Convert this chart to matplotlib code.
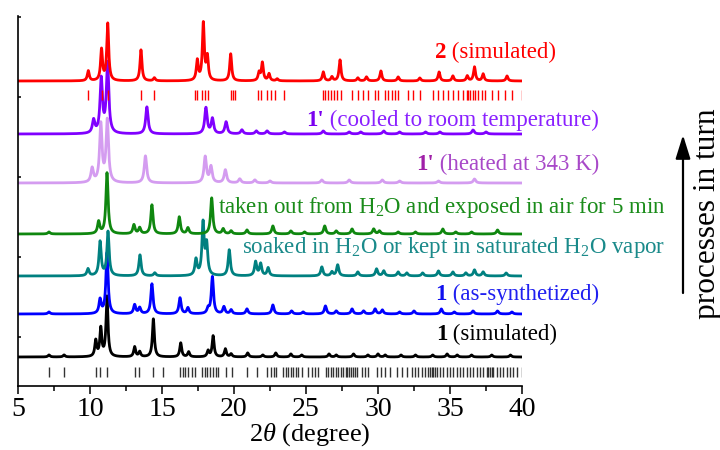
import glob
import numpy as np
import matplotlib
matplotlib.use("Agg")
import matplotlib.pyplot as plt
from matplotlib import font_manager

for pat in ['/usr/share/fonts/**/LiberationSerif*.ttf', '/usr/local/share/fonts/**/LiberationSerif*.ttf']:
    for f in glob.glob(pat, recursive=True):
        try:
            font_manager.fontManager.addfont(f)
        except Exception:
            pass

_names = {f.name for f in font_manager.fontManager.ttflist}
SERIF = 'STIXGeneral'
for cand in ['Liberation Serif', 'Times New Roman', 'Nimbus Roman', 'TeX Gyre Termes', 'STIXGeneral']:
    if cand in _names:
        SERIF = cand
        break

plt.rcParams['font.family'] = [SERIF, 'DejaVu Serif']
plt.rcParams['mathtext.fontset'] = 'custom'
plt.rcParams['mathtext.rm'] = SERIF
plt.rcParams['mathtext.it'] = SERIF + ':italic'
plt.rcParams['mathtext.bf'] = SERIF + ':bold'

# ---------------- data (peak positions in 2theta, heights) ----------------
# 1 (simulated)
sim1_pos = [7.15, 8.2, 10.4, 10.75, 11.18, 13.1, 13.45, 14.4, 16.3, 16.85, 18.2, 18.55, 19.4, 19.8,
            20.95, 22.0, 22.9, 23.95, 24.7, 26.6, 27.1, 28.3, 29.3, 30.0, 30.5, 31.6, 32.6, 33.8,
            34.8, 35.5, 36.5, 37.9, 39.2]
sim1_h = [2, 2, 16, 28, 60, 10, 5, 38, 14, 5, 6, 21, 8, 3,
          4, 2, 4, 3, 2, 3, 2, 3, 2, 3, 2, 2, 2, 2,
          3, 2, 2, 2, 2]
# 1 (as-synthetized)
as1_pos = [7.15, 10.7, 11.18, 13.1, 13.45, 14.3, 16.25, 16.8, 18.2, 18.5, 19.3, 19.8, 20.9, 22.7,
           24.0, 24.8, 26.35, 27.1, 28.2, 29.0, 29.8, 30.3, 31.5, 32.5, 34.4, 35.3, 36.6, 38.3, 39.3]
as1_h = [2, 14, 61, 9, 6, 30, 16, 6, 5, 37, 7, 4, 5, 9,
         3, 2, 8, 3, 5, 3, 5, 4, 2, 3, 5, 2, 3, 3, 2]
# soaked in H2O
soak_pos = [9.86, 10.7, 11.25, 13.47, 14.5, 17.36, 17.85, 18.1, 19.67, 21.5, 21.85, 22.37, 26.1,
            26.8, 27.2, 28.6, 29.9, 30.4, 31.4, 32.0, 33.1, 34.2, 35.2, 36.1, 36.7, 37.3, 38.9]
soak_h = [7, 34, 44, 21, 3, 16, 52, 30, 26, 14, 12, 8, 9,
          4, 11, 4, 7, 5, 4, 3, 3, 5, 4, 3, 6, 4, 3]
# taken out from H2O
taken_pos = [7.15, 10.6, 11.18, 13.05, 13.45, 14.3, 16.2, 16.8, 18.45, 19.25, 19.8, 20.9, 22.7,
             23.95, 24.9, 26.3, 27.1, 28.2, 29.7, 30.1, 31.4, 32.6, 34.5, 35.4, 36.5, 38.3]
taken_h = [2, 12, 61, 9, 6, 29, 17, 6, 36, 5, 3, 4, 8,
           3, 2, 8, 3, 5, 5, 3, 2, 2, 5, 2, 2, 4]
# 1' heated at 343 K
heat_pos = [10.15, 10.75, 11.2, 13.85, 18.0, 18.4, 19.4, 20.4, 21.45, 22.5, 26.1, 28.0, 30.3,
            31.5, 34.2, 36.7]
heat_h = [14, 58, 62, 27, 26, 16, 13, 4, 3, 2, 3, 3, 3, 2, 2, 4]
# 1' cooled to room temperature
cool_pos = [10.25, 10.78, 11.22, 13.95, 18.05, 18.5, 19.45, 20.55, 21.55, 22.3, 23.5, 26.2, 28.0,
            28.8, 30.4, 31.5, 33.3, 34.3, 36.6, 37.5]
cool_h = [13, 54, 70, 27, 26, 15, 12, 4, 3, 3, 2, 3, 2, 2, 3, 2, 2, 2, 4, 2]
# 2 (simulated)
sim2_pos = [9.88, 10.8, 11.23, 13.54, 14.47, 17.45, 17.87, 18.15, 19.77, 21.74, 21.97, 22.43, 23.0,
            26.2, 26.8, 27.36, 28.6, 29.2, 30.2, 31.4, 32.9, 34.24, 35.2, 36.2, 36.7, 37.3, 38.96]
sim2_h = [10, 31, 57, 31, 3, 20, 57, 23, 27, 8, 18, 7, 2,
          9, 4, 21, 3, 4, 10, 4, 3, 9, 5, 5, 14, 7, 5]

# reflection positions (tick rows)
refl1 = [7.18, 8.22, 10.39, 10.69, 11.16, 13.13, 13.43, 14.4, 15.09, 16.25, 16.44, 16.6, 16.83,
         17.06, 17.29, 17.75, 17.99, 18.15, 18.33, 18.56, 18.75, 18.91, 19.44, 19.84, 20.93,
         21.62, 22.31, 22.55, 22.78, 22.92, 23.43, 23.61, 23.77, 23.94, 24.12, 24.31, 24.47,
         24.7, 25.16, 25.39, 25.63, 25.86, 26.39, 26.55, 26.71, 26.9, 27.08, 27.24, 27.41,
         27.59, 27.78, 27.87, 28.01, 28.1, 28.24, 28.4, 28.56, 28.87, 29.1, 29.33, 29.91,
         30.19, 30.49, 30.83, 31.3, 31.65, 31.99, 32.34, 32.57, 32.8, 33.03, 33.26, 33.49,
         33.61, 33.72, 33.84, 33.96, 34.08, 34.31, 34.54, 34.77, 35.0, 35.23, 35.46, 35.69,
         35.92, 36.16, 36.39, 36.62, 36.85, 37.08, 37.31, 37.55, 37.66, 37.78, 37.9, 38.01,
         38.24, 38.47, 38.7, 38.94, 39.17, 39.4, 39.63, 39.98]
refl2 = [9.87, 10.8, 11.23, 13.54, 14.47, 17.3, 17.45, 17.8, 17.98, 18.2, 19.8, 19.95, 20.1,
         21.7, 21.9, 22.3, 22.55, 22.85, 23.5, 26.2, 26.35, 26.55, 26.75, 26.95, 27.15, 27.4,
         28.2, 28.6, 28.98, 29.33, 29.79, 30.02, 30.49, 30.72, 30.95, 31.18, 31.41, 32.1,
         32.45, 32.92, 33.84, 34.19, 34.54, 34.88, 35.23, 35.58, 35.92, 36.16, 36.27, 36.39,
         36.62, 36.74, 36.97, 37.2, 37.43, 37.9, 38.35, 38.82, 39.28, 39.98]

# vertical offsets of each pattern (axis units)
offsets = {'sim1': 29, 'as1': 72, 'soak': 110, 'taken': 152, 'heat': 203, 'cool': 252, 'sim2': 305}

W, H = 720, 450
fig = plt.figure(figsize=(W / 100, H / 100), dpi=100)
ax = fig.add_axes([18 / W, 1 - 386 / H, (522 - 18) / W, (386 - 16) / H])
ax.set_xlim(5, 40)
ax.set_ylim(0, 370)

x = np.linspace(5, 40, 3501)


def profile(pos, h, w):
    y = np.zeros_like(x)
    for p, hh in zip(pos, h):
        y += hh * w ** 2 / ((x - p) ** 2 + w ** 2)
    return y


lw = 2.0
series = [
    ('sim1', sim1_pos, sim1_h, 0.08, 'black'),
    ('as1', as1_pos, as1_h, 0.09, '#0000ff'),
    ('soak', soak_pos, soak_h, 0.09, '#008080'),
    ('taken', taken_pos, taken_h, 0.09, '#0f870f'),
    ('heat', heat_pos, heat_h, 0.1, '#d49cf0'),
    ('cool', cool_pos, cool_h, 0.1, '#8000ff'),
    ('sim2', sim2_pos, sim2_h, 0.08, '#ff0000'),
]
for key, pos, h, w, col in series:
    ax.plot(x, offsets[key] + profile(pos, h, w), color=col, lw=lw, solid_capstyle='round')

ax.vlines(refl1, 9, 19, color='#333333', lw=1.0)
ax.vlines(refl2, 286, 296, color='#ff0000', lw=1.0)

for s in ['top', 'right']:
    ax.spines[s].set_visible(False)
for s in ['left', 'bottom']:
    ax.spines[s].set_linewidth(1.2)

ax.set_xticks(np.arange(5, 41, 5))
ax.set_xticks(np.arange(5, 40.1, 2.5), minor=True)
ax.tick_params(axis='x', which='major', direction='out', length=6, width=1.1, labelsize=20, pad=2)
ax.tick_params(axis='x', which='minor', direction='out', length=3.5, width=1.1)
ax.set_yticks([49, 129, 209, 289, 369])
ax.tick_params(axis='y', which='major', direction='in', length=2.5, width=1.1, labelleft=False)

fig.text(310 / W, 1 - 441 / H, r'2$\theta$ (degree)', ha='center', va='baseline', fontsize=19)

renderer = fig.canvas.get_renderer()


def label(parts, xr, yb, size=16.5):
    xx = xr
    for txt, wt, col in reversed(parts):
        t = fig.text(xx / W, 1 - yb / H, txt, ha='right', va='baseline', fontsize=size,
                     fontweight=wt, color=col)
        bb = t.get_window_extent(renderer)
        xx = bb.x0


label([('2', 'bold', '#ff0000'), (' (simulated)', 'normal', '#ff0000')], 556, 58)
label([("1'", 'bold', '#7a00f0'), (' (cooled to room temperature)', 'normal', '#8a20ff')], 599, 126)
label([("1'", 'bold', '#a020a8'), (' (heated at 343 K)', 'normal', '#a848c8')], 599, 170)
label([(r'taken out from H$_2$O and exposed in air for 5 min', 'normal', '#1a8c1a')], 665, 213)
label([(r'soaked in H$_2$O or kept in saturated H$_2$O vapor', 'normal', '#1a8a8a')], 665, 253)
label([('1', 'bold', '#1010ee'), (' (as-synthetized)', 'normal', '#2020f0')], 599, 300)
label([('1', 'bold', 'black'), (' (simulated)', 'normal', 'black')], 557, 340)

ax.annotate('', xy=(683 / W, 1 - 135 / H), xytext=(683 / W, 1 - 293 / H),
            xycoords='figure fraction', textcoords='figure fraction',
            arrowprops=dict(arrowstyle='-|>,head_length=0.8,head_width=0.25', lw=1.6,
                            color='black', mutation_scale=18, shrinkA=0, shrinkB=0))
fig.text(707 / W, 1 - 214 / H, 'processes in turn', rotation=90, ha='center', va='center',
         fontsize=22.5)

fig.savefig('out.png', dpi=100)
